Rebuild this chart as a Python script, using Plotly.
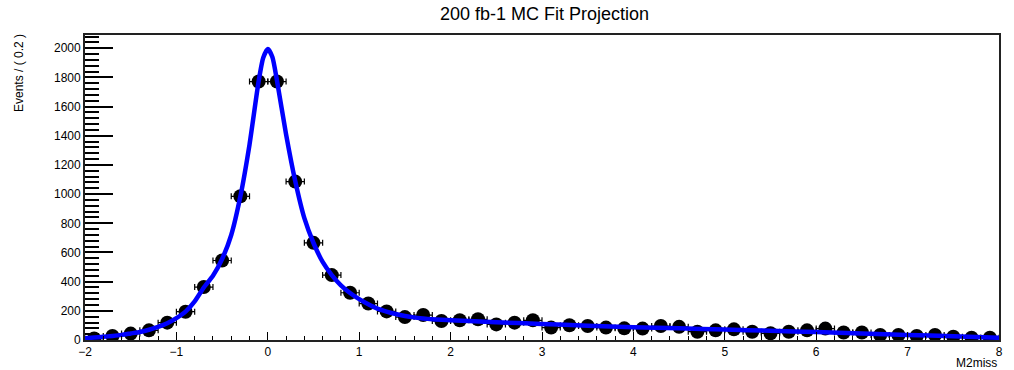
import plotly.graph_objects as go

# Binned data (bin width 0.2)
bin_centers = [-1.9, -1.7, -1.5, -1.3, -1.1, -0.9, -0.7, -0.5, -0.3, -0.1,
               0.1, 0.3, 0.5, 0.7, 0.9, 1.1, 1.3, 1.5, 1.7, 1.9,
               2.1, 2.3, 2.5, 2.7, 2.9, 3.1, 3.3, 3.5, 3.7, 3.9,
               4.1, 4.3, 4.5, 4.7, 4.9, 5.1, 5.3, 5.5, 5.7, 5.9,
               6.1, 6.3, 6.5, 6.7, 6.9, 7.1, 7.3, 7.5, 7.7, 7.9]
events = [10, 27, 44, 66, 119, 194, 363, 545, 985, 1772,
          1772, 1086, 666, 445, 324, 250, 196, 157, 171, 130,
          135, 142, 107, 119, 135, 85, 101, 96, 85, 80,
          78, 96, 90, 57, 66, 73, 57, 46, 57, 66,
          78, 51, 51, 34, 34, 27, 34, 23, 16, 16]
half_bin = [0.1] * len(bin_centers)

# Fit curve
fit_x = [-2.0, -1.9, -1.8, -1.7, -1.6, -1.5, -1.4, -1.3, -1.2, -1.1, -1.0,
         -0.9, -0.8, -0.7, -0.6, -0.5, -0.4, -0.3, -0.2, -0.1, -0.05, 0.0,
         0.05, 0.1, 0.2, 0.3, 0.4, 0.5, 0.6, 0.7, 0.8, 0.9, 1.0, 1.1, 1.2,
         1.3, 1.4, 1.5, 1.6, 1.7, 1.8, 1.9, 2.0, 2.5, 3.0, 3.5, 4.0, 4.5,
         5.0, 5.5, 6.0, 6.5, 7.0, 7.5, 8.0]
fit_y = [12, 17, 22, 28, 35, 45, 55, 70, 90, 115, 150,
         195, 265, 360, 440, 555, 720, 985, 1340, 1775, 1935, 1995,
         1940, 1780, 1410, 1090, 835, 665, 535, 445, 375, 322, 280, 245, 215,
         195, 178, 165, 155, 148, 142, 138, 135, 122, 110, 98, 88, 80,
         72, 63, 55, 45, 35, 25, 15]

x_title = "M2miss"
y_title = "Events / ( 0.2 )"
title = "200 fb-1 MC Fit Projection"

FONT = "Liberation Sans, Arial, Helvetica, sans-serif"

fig = go.Figure()
fig.add_trace(go.Scatter(
    x=bin_centers, y=events, mode="markers",
    marker=dict(color="black", size=14),
    error_x=dict(type="data", array=half_bin, visible=True,
                 color="black", thickness=1.2, width=3),
    showlegend=False, hoverinfo="x+y"))
fig.add_trace(go.Scatter(
    x=fit_x, y=fit_y, mode="lines",
    line=dict(color="#0000ff", width=4.5, shape="spline", smoothing=0.6),
    showlegend=False))

fig.update_layout(
    width=1014, height=370,
    margin=dict(l=85, r=11, t=35, b=29),
    paper_bgcolor="white", plot_bgcolor="white",
    font=dict(family=FONT, size=12, color="black"),
    title=dict(text=title, x=0.537, xanchor="center", y=0.962, yanchor="middle",
               font=dict(family=FONT, size=18, color="black")),
    xaxis=dict(range=[-2, 8], showgrid=False, zeroline=False,
               showline=True, linecolor="#222", linewidth=1.8, mirror=True,
               ticks="inside", ticklen=8, tickcolor="black", tickwidth=1.2,
               tickmode="linear", tick0=-2, dtick=1,
               minor=dict(ticks="inside", ticklen=4, dtick=0.2, tick0=-2,
                          tickcolor="black", showgrid=False),
               tickfont=dict(size=12)),
    yaxis=dict(range=[0, 2091], showgrid=False, zeroline=False,
               showline=True, linecolor="#222", linewidth=1.8, mirror=True,
               ticks="inside", ticklen=28, tickcolor="black", tickwidth=1.5,
               tickmode="linear", tick0=0, dtick=200,
               minor=dict(ticks="inside", ticklen=14, dtick=40, tick0=0,
                          tickcolor="black", showgrid=False),
               tickfont=dict(size=12)),
    annotations=[
        dict(text=x_title, xref="paper", yref="paper", x=1.0, y=0,
             xanchor="right", yanchor="top", yshift=-14, showarrow=False,
             font=dict(family=FONT, size=12)),
        dict(text=y_title, xref="paper", yref="paper", x=0, y=1.0,
             xanchor="center", yanchor="top", xshift=-66, yshift=3,
             textangle=-90, showarrow=False, font=dict(family=FONT, size=12)),
    ],
)

fig.write_html("out.html")
